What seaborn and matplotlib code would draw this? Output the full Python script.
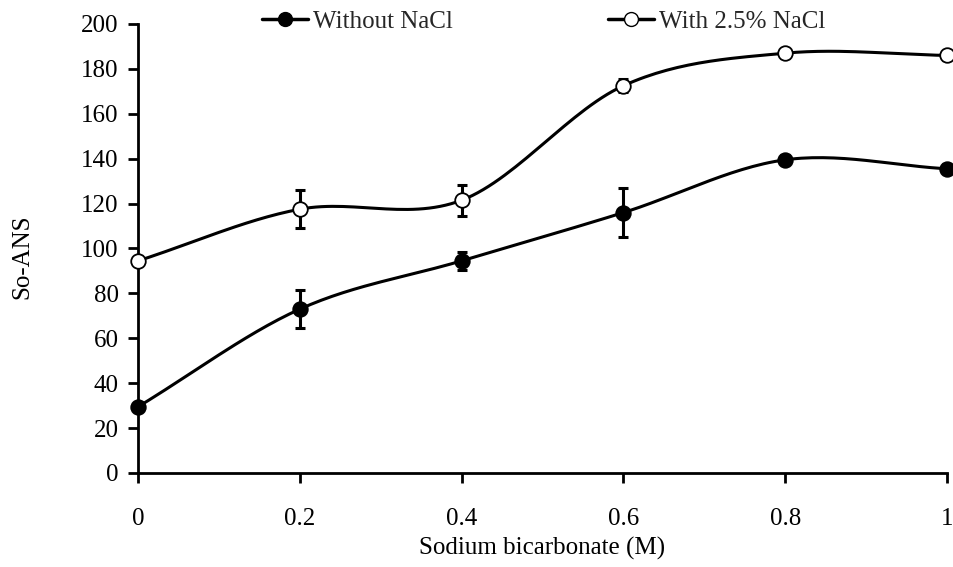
import numpy as np
import pandas as pd
import matplotlib
matplotlib.use("Agg")
import matplotlib.pyplot as plt
import seaborn as sns
from matplotlib.lines import Line2D

x_vals = [0, 0.2, 0.4, 0.6, 0.8, 1.0]
without_nacl = [29.5, 73, 94.5, 116, 139.5, 135.5]
without_err = [2, 8.5, 4, 11, 2, 2]
with_nacl = [94.5, 117.5, 121.5, 172.5, 187, 186]
with_err = [2, 8.5, 7, 3, 2, 2]
series_names = ["Without NaCl", "With 2.5% NaCl"]
x_ticks = [0, 0.2, 0.4, 0.6, 0.8, 1]
x_tick_labels = ["0", "0.2", "0.4", "0.6", "0.8", "1"]
y_ticks = list(range(0, 201, 20))

sns.set_theme(style="white")
plt.rcParams['font.family'] = ['Liberation Serif', 'DejaVu Serif']

def smooth(xs, ys, n=30):
    xs = np.asarray(xs, float); ys = np.asarray(ys, float)
    px = np.concatenate([[2*xs[0]-xs[1]], xs, [2*xs[-1]-xs[-2]]])
    py = np.concatenate([[2*ys[0]-ys[1]], ys, [2*ys[-1]-ys[-2]]])
    ox, oy = [], []
    for i in range(1, len(px)-2):
        t = np.linspace(0, 1, n, endpoint=False)
        p0x, p1x, p2x, p3x = px[i-1:i+3]
        p0y, p1y, p2y, p3y = py[i-1:i+3]
        b1x = p1x + (p2x - p0x)/6; b1y = p1y + (p2y - p0y)/6
        b2x = p2x - (p3x - p1x)/6; b2y = p2y - (p3y - p1y)/6
        ox.append((1-t)**3*p1x + 3*(1-t)**2*t*b1x + 3*(1-t)*t**2*b2x + t**3*p2x)
        oy.append((1-t)**3*p1y + 3*(1-t)**2*t*b1y + 3*(1-t)*t**2*b2y + t**3*p2y)
    ox.append([xs[-1]]); oy.append([ys[-1]])
    return np.concatenate(ox), np.concatenate(oy)

fig = plt.figure(figsize=(9.54, 5.67), dpi=100)
ax = fig.add_axes([0.1447, 0.1658, 0.848, 0.7919])

df = pd.DataFrame({
    "x": x_vals * 2,
    "y": without_nacl + with_nacl,
    "err": without_err + with_err,
    "series": [series_names[0]] * 6 + [series_names[1]] * 6,
})

for name, face in zip(series_names, ["black", "white"]):
    sub = df[df.series == name]
    sx, sy = smooth(sub.x, sub.y)
    sns.lineplot(x=sx, y=sy, ax=ax, color="black", lw=2.2, sort=False, legend=False)
    ax.errorbar(sub.x, sub.y, yerr=sub.err, fmt="none", ecolor="black",
                elinewidth=2.2, capsize=3.8, capthick=2.2, zorder=3)
    sns.scatterplot(data=sub, x="x", y="y", ax=ax, color=face, edgecolor="black",
                    linewidth=1.3, s=110, zorder=4, legend=False, clip_on=False)

ax.set_xlim(0, 1)
ax.set_ylim(0, 200)
ax.set_xticks(x_ticks)
ax.set_xticklabels(x_tick_labels)
ax.set_yticks(y_ticks)
for s in ["top", "right"]:
    ax.spines[s].set_visible(False)
for s in ["left", "bottom"]:
    ax.spines[s].set_color("black")
    ax.spines[s].set_linewidth(2)
ax.tick_params(axis="both", direction="out", length=7, width=2, color="black",
               labelsize=18, labelcolor="black", bottom=True, left=True)
ax.tick_params(axis="x", pad=18)
ax.tick_params(axis="y", pad=7)
ax.set_xlabel("Sodium bicarbonate (M)", fontsize=18, color="black", labelpad=5)
ax.set_ylabel("So-ANS", fontsize=18, color="black")
ax.yaxis.set_label_coords(-0.1298, 0.481)

handles = [
    Line2D([], [], color="black", lw=2.5, marker="o", markersize=10,
           markerfacecolor="black", markeredgecolor="black"),
    Line2D([], [], color="black", lw=2.5, marker="o", markersize=10,
           markerfacecolor="white", markeredgecolor="black"),
]
fig.legend(handles, series_names, loc="center", bbox_to_anchor=(0.570, 0.962),
           ncol=2, frameon=False, fontsize=18, handlelength=1.85,
           handletextpad=0.2, columnspacing=6.2)

fig.savefig("out.png", dpi=100)
